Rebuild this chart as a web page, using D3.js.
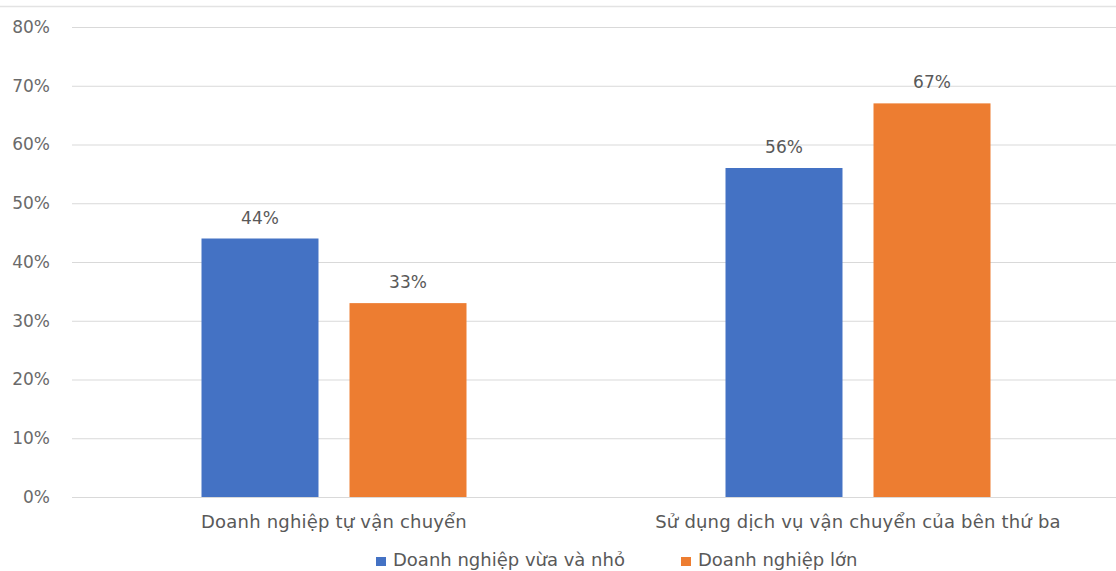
<!DOCTYPE html>
<html><head><meta charset="utf-8">
<script src="https://cdn.jsdelivr.net/npm/d3@7"></script>
<style>body{margin:0;background:#fff;} svg{display:block;font-family:"DejaVu Sans",sans-serif;}</style>
</head><body>
<svg id="c" width="1116" height="571"></svg>
<script>
const categories = ["Doanh nghiệp tự vận chuyển", "Sử dụng dịch vụ vận chuyển của bên thứ ba"];
const seriesNames = ["Doanh nghiệp vừa và nhỏ", "Doanh nghiệp lớn"];
const smeValues = [44, 56];
const largeValues = [33, 67];
const yTicks = [0, 10, 20, 30, 40, 50, 60, 70, 80];
const colors = ["#4472C4", "#ED7D31"];

const svg = d3.select("#c");
const W = 1116, H = 571;
const m = {left: 72, right: -4, top: 27, bottom: 74};
const x0 = d3.scaleBand().domain(categories).range([m.left, W - m.right]).paddingInner(0).paddingOuter(0);
const x1 = d3.scaleBand().domain(seriesNames).range([0, x0.bandwidth()]).paddingInner(0.2095).paddingOuter(0.875);
const y = d3.scaleLinear().domain([0, 80]).range([H - m.bottom, m.top]);

// top border
svg.append("line").attr("x1",0).attr("x2",W).attr("y1",6.5).attr("y2",6.5).attr("stroke","#e3e3e3").attr("stroke-width",1.5);

// gridlines
const yAxis = d3.axisLeft(y).tickValues(yTicks).tickFormat(d => d + "%").tickSize(-(W - m.left)).tickPadding(22);
const ga = svg.append("g").attr("transform", `translate(${m.left},0)`).call(yAxis);
ga.select(".domain").remove();
ga.selectAll(".tick line").attr("stroke", "#d9d9d9").attr("stroke-width", 1);
ga.selectAll(".tick text").attr("fill", "#6a6a6a").style("font-size", "17px").attr("font-family","DejaVu Sans");

const data = categories.map((c, i) => ({cat: c, vals: [smeValues[i], largeValues[i]]}));
const groups = svg.append("g").selectAll("g").data(data).join("g")
  .attr("transform", d => `translate(${x0(d.cat)},0)`);
groups.selectAll("rect").data(d => d.vals.map((v, j) => ({name: seriesNames[j], v, j})))
  .join("rect")
  .attr("x", d => x1(d.name)).attr("width", x1.bandwidth())
  .attr("y", d => y(d.v)).attr("height", d => y(0) - y(d.v))
  .attr("fill", d => colors[d.j]);
groups.selectAll("text.lbl").data(d => d.vals.map((v, j) => ({name: seriesNames[j], v, j})))
  .join("text").attr("class","lbl")
  .attr("x", d => x1(d.name) + x1.bandwidth()/2).attr("y", d => y(d.v) - 15)
  .attr("text-anchor","middle").attr("fill","#595959").style("font-size","17px").text(d => d.v + "%");

// category labels
svg.append("g").selectAll("text").data(categories).join("text")
  .attr("x", d => x0(d) + x0.bandwidth()/2).attr("y", 528)
  .attr("text-anchor","middle").attr("fill","#595959").style("font-size","18px").style("letter-spacing","0.2px").text(d => d);

// legend
const lg = svg.append("g");
const legendX = [376, 681];
seriesNames.forEach((s, i) => {
  lg.append("rect").attr("x", legendX[i]).attr("y", 557).attr("width", 10).attr("height", 9).attr("fill", colors[i]);
  lg.append("text").attr("x", legendX[i] + 17).attr("y", 566).attr("fill","#595959").style("font-size","18px").text(s);
});
</script>
</body></html>
